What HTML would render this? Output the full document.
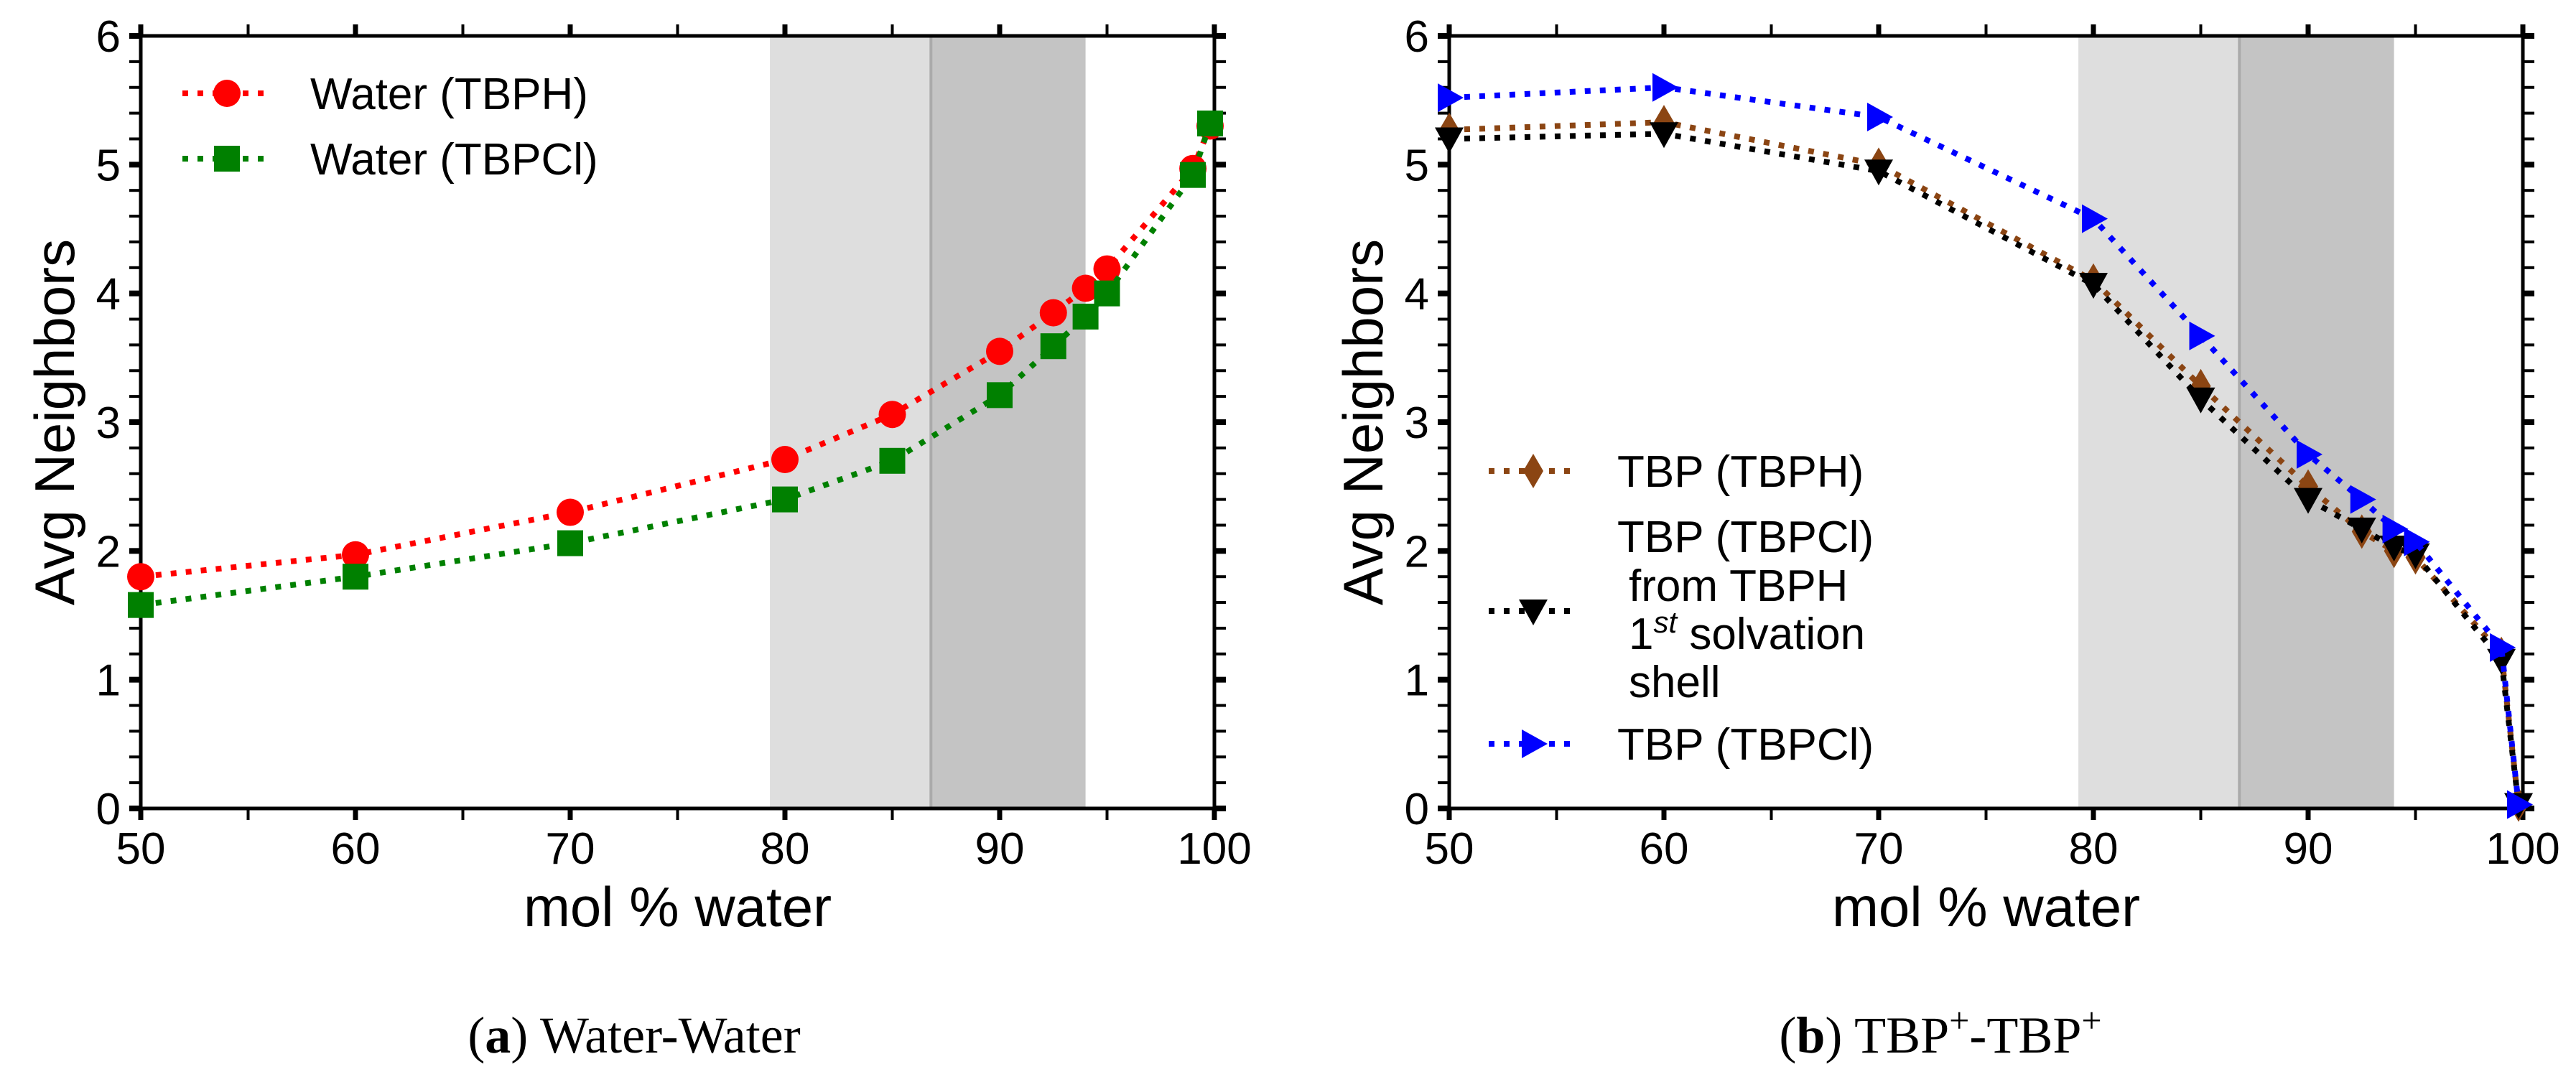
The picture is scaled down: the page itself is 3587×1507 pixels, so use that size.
<!DOCTYPE html>
<html><head><meta charset="utf-8">
<style>
html,body{margin:0;padding:0;background:#fff;}
svg{display:block;}
text{font-family:"Liberation Sans",sans-serif;fill:#000;}
.serif{font-family:"Liberation Serif",serif;}
</style></head>
<body>
<svg id="chart" width="3587" height="1507" viewBox="0 0 3587 1507" xmlns="http://www.w3.org/2000/svg">
</svg>
<script>
const xVals = [50, 60, 70, 80, 85, 90, 92.5, 94, 95, 99, 99.8];
const waterTBPH = [1.8, 1.97, 2.3, 2.71, 3.06, 3.55, 3.85, 4.04, 4.19, 4.97, 5.3];
const waterTBPCl = [1.58, 1.8, 2.06, 2.4, 2.7, 3.21, 3.59, 3.82, 4.0, 4.92, 5.32];
const tbpTBPH = [5.27, 5.33, 5.0, 4.1, 3.28, 2.5, 2.15, 2.0, 1.95, 1.2, 0.03];
const tbpFromTBPH = [5.2, 5.24, 4.95, 4.07, 3.18, 2.4, 2.17, 2.03, 1.97, 1.15, 0.03];
const tbpTBPCl = [5.52, 5.6, 5.37, 4.58, 3.67, 2.75, 2.4, 2.17, 2.07, 1.25, 0.03];
const xTicks = [50, 60, 70, 80, 90, 100];
const yTicks = [0, 1, 2, 3, 4, 5, 6];
const bandLight = [79.3, 86.8];
const bandDark = [86.8, 94.0];

const NS = "http://www.w3.org/2000/svg";
const svg = document.getElementById('chart');
function mk(tag, attrs, parent) {
  const e = document.createElementNS(NS, tag);
  for (const k in attrs) e.setAttribute(k, attrs[k]);
  (parent || svg).appendChild(e);
  return e;
}

function panel(x0, x1, yTop, yBot, name) {
  const g = mk('g', {});
  
  
  const sx = v => x0 + (v - 50) / 50 * (x1 - x0);
  const sy = v => yBot - v / 6 * (yBot - yTop);
  const b1 = mk('rect', {x: sx(bandLight[0]), y: yTop, width: sx(bandLight[1]) - sx(bandLight[0]), height: yBot - yTop, fill: '#dedede'}, g);
  
  
  const b2 = mk('rect', {x: sx(bandDark[0]), y: yTop, width: sx(bandDark[1]) - sx(bandDark[0]), height: yBot - yTop, fill: '#c4c4c4'}, g);
  
  
  mk('line', {x1: sx(bandDark[0]), x2: sx(bandDark[0]), y1: yTop, y2: yBot, stroke: '#aaaaaa', 'stroke-width': 4}, g);
  for (let v = 50; v <= 100; v += 5) {
    const major = v % 10 === 0;
    const w = major ? 7 : 4, L = 16;
    mk('line', {x1: sx(v), x2: sx(v), y1: yBot, y2: yBot + L, stroke: '#000', 'stroke-width': w}, g);
    mk('line', {x1: sx(v), x2: sx(v), y1: yTop, y2: yTop - L, stroke: '#000', 'stroke-width': w}, g);
  }
  for (let i = 0; i <= 30; i++) {
    const v = i * 0.2;
    const major = i % 5 === 0;
    const w = major ? 8 : 4, L = 16;
    mk('line', {x1: x0 - L, x2: x0, y1: sy(v), y2: sy(v), stroke: '#000', 'stroke-width': w}, g);
    mk('line', {x1: x1, x2: x1 + L, y1: sy(v), y2: sy(v), stroke: '#000', 'stroke-width': w}, g);
  }
  const fr = mk('rect', {x: x0, y: yTop, width: x1 - x0, height: yBot - yTop, fill: 'none', stroke: '#000', 'stroke-width': 5}, g);
  
  
  xTicks.forEach(v => {
    const t = mk('text', {x: sx(v), y: 1203, 'font-size': 62, 'text-anchor': 'middle'}, g);
    t.textContent = v;
    
    
  });
  yTicks.forEach(v => {
    const t = mk('text', {x: x0 - 28, y: sy(v) + 22, 'font-size': 62, 'text-anchor': 'end'}, g);
    t.textContent = v;
    
    
  });
  const xt = mk('text', {x: (x0 + x1) / 2, y: 1290, 'font-size': 78, 'text-anchor': 'middle'}, g);
  xt.textContent = 'mol % water';
  
  
  const yx = x0 - 121, yy = (yTop + yBot) / 2;
  const yt = mk('text', {x: yx, y: yy, 'font-size': 78, 'text-anchor': 'middle', transform: `rotate(-90 ${yx} ${yy}) translate(0 28)`}, g);
  yt.textContent = 'Avg Neighbors';
  
  
  return {g, sx, sy};
}

function marker(kind, cx, cy, color, parent) {
  const s = 19;
  let e;
  if (kind === 'circle') e = mk('circle', {cx, cy, r: s, fill: color}, parent);
  else if (kind === 'square') e = mk('rect', {x: cx - 18, y: cy - 18, width: 36, height: 36, fill: color}, parent);
  else if (kind === 'diamond') e = mk('polygon', {points: `${cx},${cy - 24} ${cx + 14},${cy} ${cx},${cy + 24} ${cx - 14},${cy}`, fill: color}, parent);
  else if (kind === 'down') e = mk('polygon', {points: `${cx - 20},${cy - 16} ${cx + 20},${cy - 16} ${cx},${cy + 20}`, fill: color}, parent);
  else e = mk('polygon', {points: `${cx - 16},${cy - 20} ${cx - 16},${cy + 20} ${cx + 20},${cy}`, fill: color}, parent);
  return e;
}

function series(p, ys, color, kind, name) {
  const g = mk('g', {}, p.g);
  
  
  const pts = xVals.map((x, i) => `${p.sx(x)},${p.sy(ys[i])}`).join(' ');
  mk('polyline', {points: pts, fill: 'none', stroke: color, 'stroke-width': 8, 'stroke-dasharray': '8 13'}, g);
  xVals.forEach((x, i) => {
    const m = marker(kind, p.sx(x), p.sy(ys[i]), color, g);
    
    
  });
}

function legendEntry(x, y, color, kind, lines, tx, name) {
  const g = mk('g', {});
  
  
  mk('line', {x1: x, x2: x + 125, y1: y, y2: y, stroke: color, 'stroke-width': 8, 'stroke-dasharray': '8 13'}, g);
  marker(kind, x + 62, y, color, g);
  lines.forEach(l => {
    const t = mk('text', {x: l[2] || tx, y: l[1] + 22, 'font-size': 62}, g);
    t.innerHTML = l[0];
  });
}

const pa = panel(196, 1691, 50, 1126, 'panel-a');
series(pa, waterTBPH, '#ff0000', 'circle', 'series-water-tbph');
series(pa, waterTBPCl, '#008000', 'square', 'series-water-tbpcl');
legendEntry(254, 130, '#ff0000', 'circle', [['Water (TBPH)', 130]], 432, 'legend-water-tbph');
legendEntry(254, 221, '#008000', 'square', [['Water (TBPCl)', 221]], 432, 'legend-water-tbpcl');

const pb = panel(2018, 3513, 50, 1126, 'panel-b');
series(pb, tbpTBPH, '#8b4513', 'diamond', 'series-tbp-tbph');
series(pb, tbpFromTBPH, '#000000', 'down', 'series-tbp-from-tbph');
series(pb, tbpTBPCl, '#0000ff', 'right', 'series-tbp-tbpcl');
legendEntry(2073, 656, '#8b4513', 'diamond', [['TBP (TBPH)', 656]], 2252, 'legend-tbp-tbph');
legendEntry(2073, 851, '#000000', 'down', [['TBP (TBPCl)', 747], ['from TBPH', 815, 2268], ['1<tspan baseline-shift="super" font-size="42" font-style="italic">st</tspan> solvation', 882, 2268], ['shell', 949, 2268]], 2252, 'legend-tbp-from-tbph');
legendEntry(2073, 1036, '#0000ff', 'right', [['TBP (TBPCl)', 1036]], 2252, 'legend-tbp-tbpcl');

const ca = mk('text', {x: 883, y: 1466, 'font-size': 72, 'text-anchor': 'middle', class: 'serif'});
ca.innerHTML = '(<tspan font-weight="bold">a</tspan>) Water-Water';


const cb = mk('text', {x: 2702, y: 1466, 'font-size': 72, 'text-anchor': 'middle', class: 'serif'});
cb.innerHTML = '(<tspan font-weight="bold">b</tspan>) TBP<tspan baseline-shift="super" font-size="50">+</tspan>-TBP<tspan baseline-shift="super" font-size="50">+</tspan>';


</script>
</body></html>
